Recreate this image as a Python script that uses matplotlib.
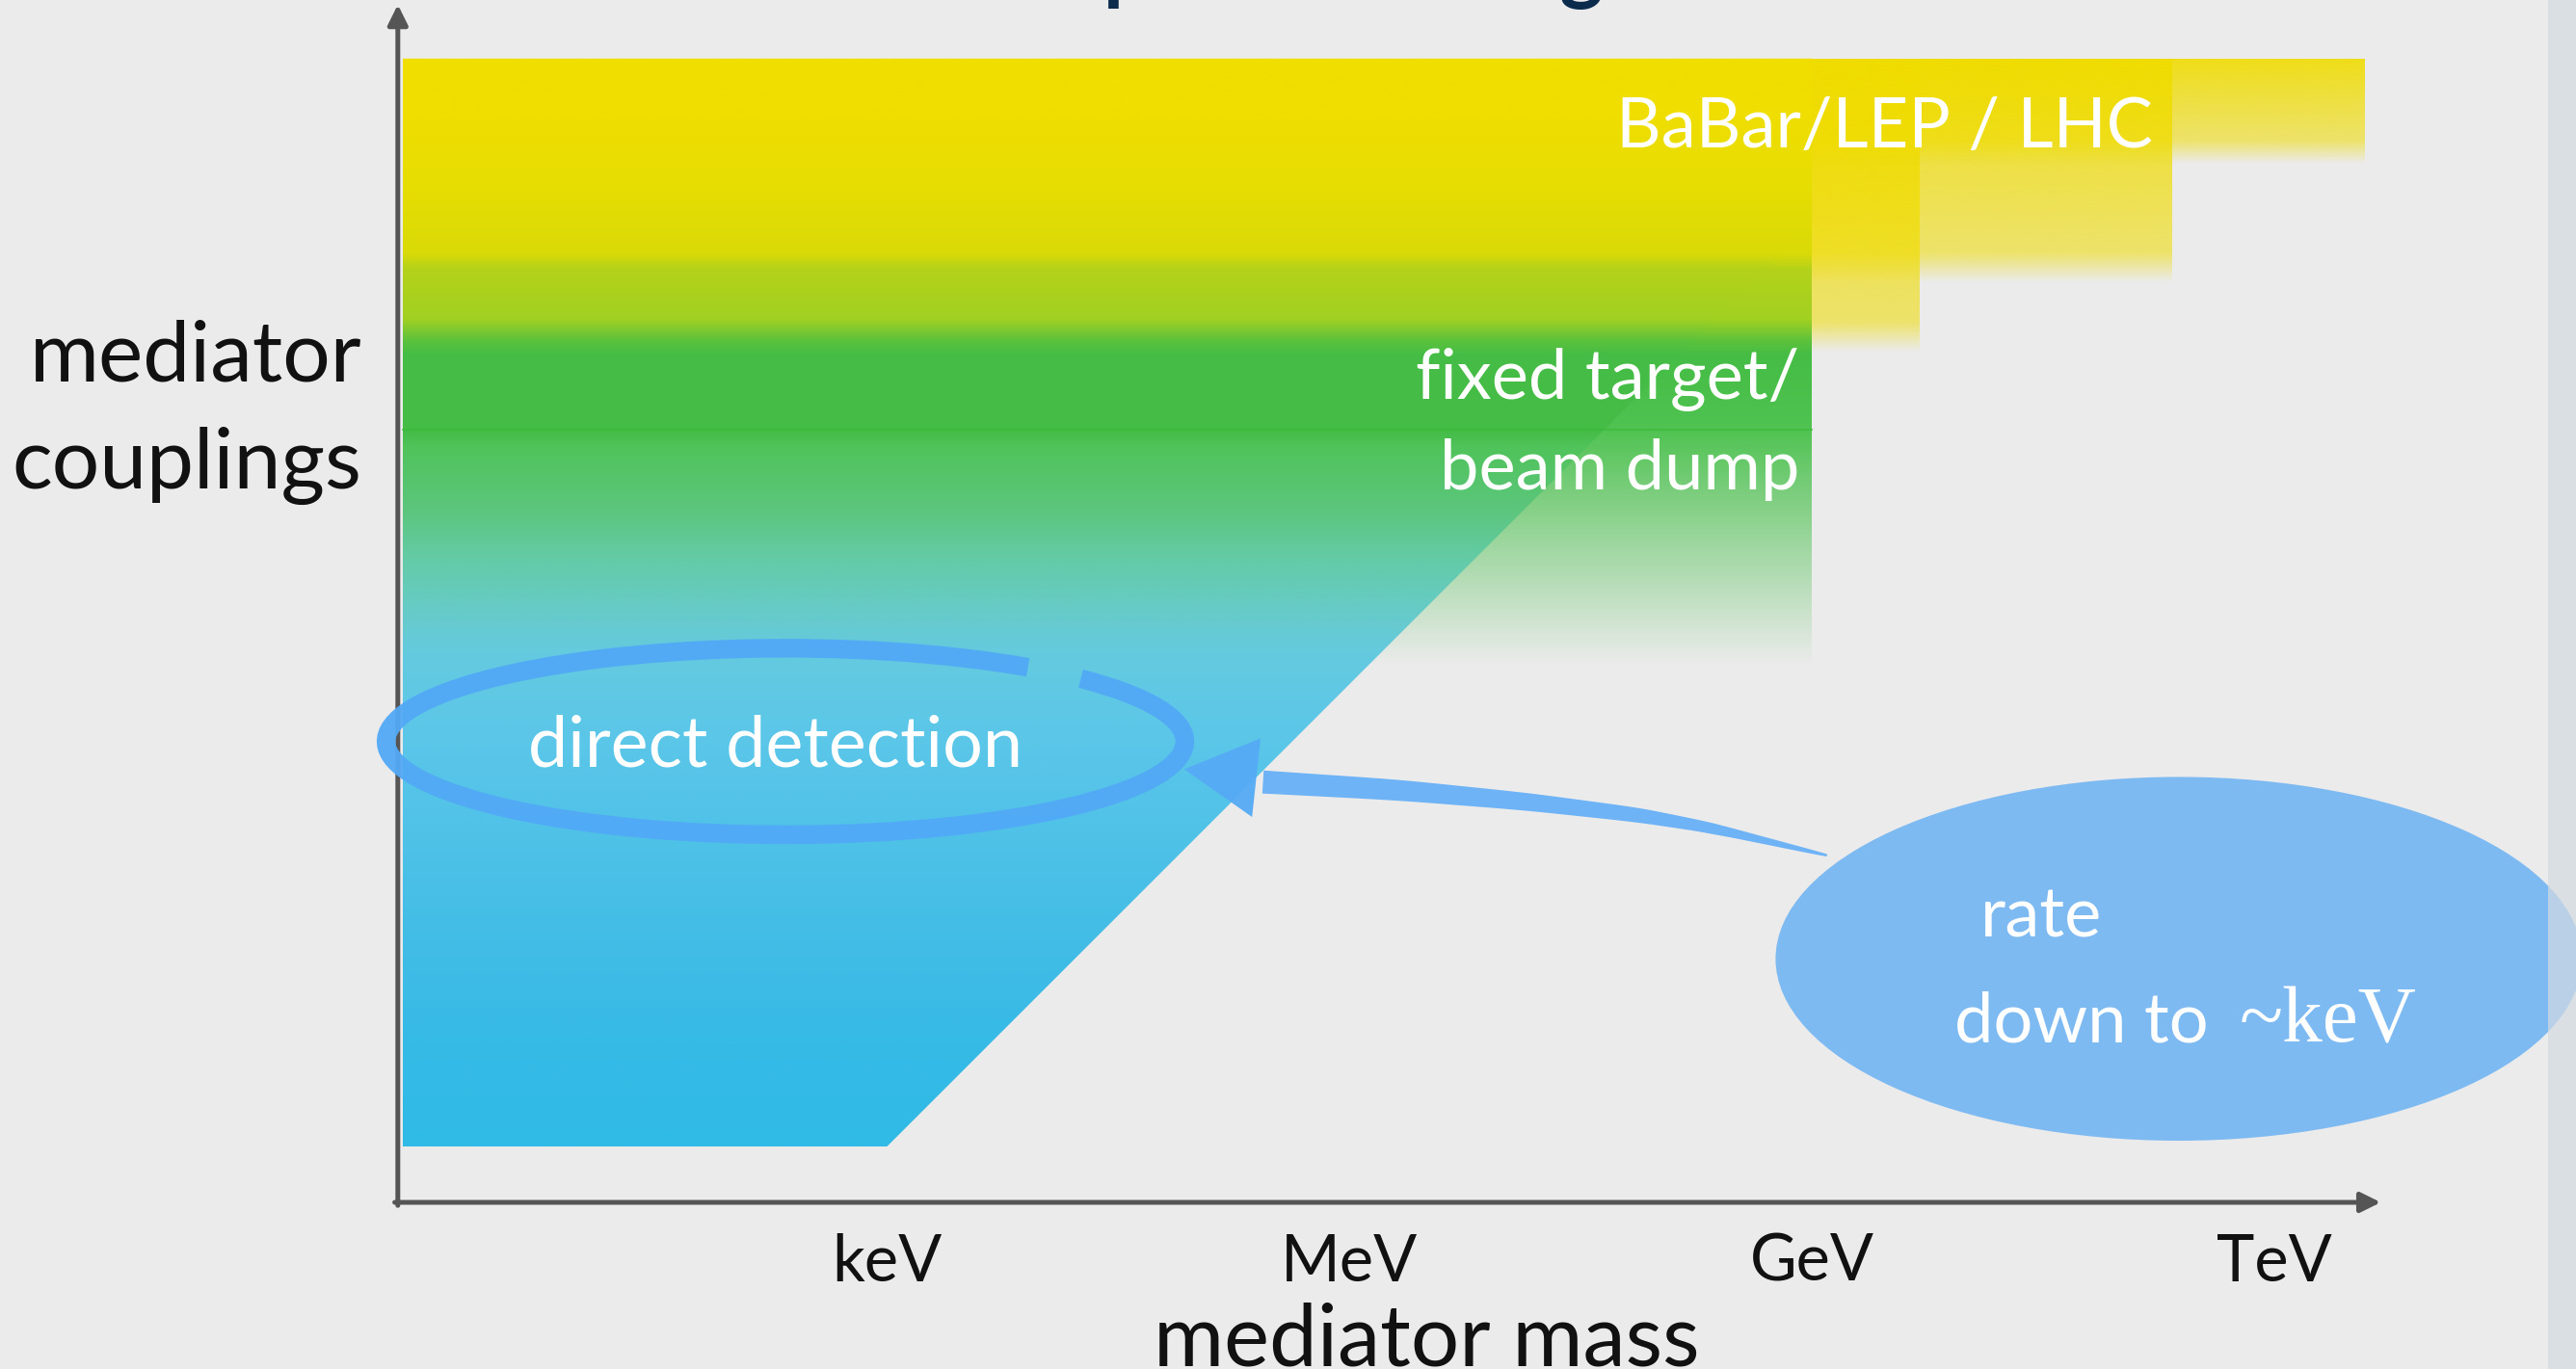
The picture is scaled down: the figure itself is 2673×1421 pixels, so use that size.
import numpy as np
import matplotlib.pyplot as plt
from matplotlib.colors import to_rgba
from matplotlib.patches import Polygon, Rectangle, Ellipse, Arc

plt.rcParams['font.family'] = ['Lato', 'DejaVu Sans']

# x: log10(mediator mass / eV), y: log10(coupling) -- schematic scales
mass_ticks = [3, 6, 9, 12]
mass_labels = ['keV', 'MeV', 'GeV', 'TeV']

axis_x0, axis_x1 = -0.17, 12.69
axis_y0, axis_y1 = -9.0, -1.23
band_left, band_top = -0.14, -1.58

# collider reach (BaBar, LEP, LHC): mass edge, where the band starts to fade, fade end
collider_mass = [9.70, 11.34, 12.59]
collider_floor = [-3.29, -2.84, -2.11]
collider_fade = [-3.48, -3.03, -2.26]

# fixed target / beam dump
ft_mass = 9.0
ft_floor = -3.99
ft_fade = -5.51

# direct detection: flat floor up to keV, then rising
dd_floor = -8.64
dd_kink = 3.0
dd_slope = 1.0

# colour stops of the shaded band (bottom -> top)
grad_y = [-8.64, -7.98, -7.29, -6.60, -5.91, -5.44, -5.21, -4.84, -4.52, -4.10,
          -3.99, -3.50, -3.41, -3.27, -2.94, -2.85, -2.44, -1.98, -1.58]
grad_c = ['#30BBE6', '#36BAE6', '#42BDE6', '#50C2E8', '#5DC7E8', '#64CADF',
          '#67CBCC', '#64CBA8', '#5CC67E', '#50C35A', '#44BC46', '#45BD45',
          '#5CC23C', '#A2D022', '#B5D21A', '#D9DA08', '#E6DD03', '#EFDE00',
          '#F1DE00']

dd_ellipse = dict(center=(2.344, -6.01), width=5.18, height=1.21)
rate_ellipse = dict(center=(11.38, -7.42), width=5.23, height=2.36)

# arrow from the rate bubble to the direct detection reach
arrow_head = [(4.93, -6.19), (5.425, -5.99), (5.37, -6.50)]
arrow_x = [5.375, 6.3125, 7.144, 7.875, 8.3375, 9.156]
arrow_y = [-6.269, -6.325, -6.400, -6.4875, -6.569, -6.7625]
arrow_w = [0.15, 0.135, 0.115, 0.095, 0.07, 0.015]

xlim = (-2.75, 13.956)
ylim = (-10.081, -1.2)
bg = '#EBEBEB'


def column_image(y0, y1, ys, cols, ay, av, n=900):
    yy = np.linspace(y0, y1, n)
    rgb = np.array([to_rgba(c)[:3] for c in cols])
    img = np.zeros((n, 1, 4))
    for k in range(3):
        img[:, 0, k] = np.interp(yy, ys, rgb[:, k])
    img[:, 0, 3] = np.interp(yy, ay, av)
    return img


def shade(ax, verts, img, extent, z):
    patch = Polygon(verts, closed=True, facecolor='none', edgecolor='none')
    ax.add_patch(patch)
    im = ax.imshow(img, extent=extent, origin='lower', aspect='auto',
                   interpolation='bilinear', zorder=z)
    im.set_clip_path(patch)


def tapered_stroke(xs, ys, ws, n=80):
    t = np.linspace(0, 1, len(xs))
    tt = np.linspace(0, 1, n)
    px = np.interp(tt, t, xs)
    py = np.interp(tt, t, ys)
    # light smoothing of the polyline
    k = np.ones(9) / 9
    px = np.convolve(np.pad(px, 4, mode='edge'), k, mode='valid')
    py = np.convolve(np.pad(py, 4, mode='edge'), k, mode='valid')
    w = np.interp(tt, t, ws) / 2
    dx, dy = np.gradient(px), np.gradient(py)
    nrm = np.hypot(dx, dy)
    nx, ny = -dy / nrm, dx / nrm
    upper = np.column_stack([px + nx * w, py + ny * w])
    lower = np.column_stack([px - nx * w, py - ny * w])[::-1]
    return np.vstack([upper, lower])


fig = plt.figure(figsize=(26.73, 14.21), dpi=100, facecolor=bg)
ax = fig.add_axes([0, 0, 1, 1])
ax.set_facecolor(bg)
ax.axis('off')

# collider bands, drawn under everything else
for m, fl, fd in zip(collider_mass, collider_floor, collider_fade):
    img = column_image(fd, band_top, [fd, band_top], ['#F0DC00', '#F0DC00'],
                       [fd, fl, band_top], [0.0, 0.55, 0.9])
    verts = [(band_left, fd), (m, fd), (m, band_top), (band_left, band_top)]
    shade(ax, verts, img, [band_left, m, fd, band_top], 1)

# fixed target / beam dump region: green fading out at low coupling
ft_ys = [ft_fade, ft_floor] + [y for y in grad_y if y > ft_floor]
ft_cs = ['#58C45C', '#50C352'] + [c for y, c in zip(grad_y, grad_c) if y > ft_floor]
img = column_image(ft_fade, band_top, ft_ys, ft_cs,
                   [ft_fade, ft_floor, band_top], [0.0, 1.0, 1.0])
verts = [(band_left, ft_fade), (ft_mass, ft_fade), (ft_mass, band_top),
         (band_left, band_top)]
shade(ax, verts, img, [band_left, ft_mass, ft_fade, band_top], 2)
ax.plot([band_left, ft_mass], [ft_floor, ft_floor], color='#3BBA36',
        lw=1.5, alpha=0.6, zorder=4)

# direct detection reach
dd_top = dd_floor + (ft_mass - dd_kink) * dd_slope
img = column_image(dd_floor, band_top, grad_y, grad_c,
                   [dd_floor, band_top], [1.0, 1.0])
verts = [(band_left, dd_floor), (dd_kink, dd_floor), (ft_mass, dd_top),
         (ft_mass, band_top), (band_left, band_top)]
shade(ax, verts, img, [band_left, ft_mass, dd_floor, band_top], 3)

# axes with arrow heads
ax.annotate('', xy=(axis_x1, axis_y0), xytext=(axis_x0 - 0.02, axis_y0),
            arrowprops=dict(arrowstyle='-|>,head_length=1.25,head_width=0.62',
                            color='#555555', lw=3.6, shrinkA=0, shrinkB=0),
            zorder=6)
ax.annotate('', xy=(axis_x0, axis_y1), xytext=(axis_x0, axis_y0 - 0.02),
            arrowprops=dict(arrowstyle='-|>,head_length=1.25,head_width=0.62',
                            color='#555555', lw=3.6, shrinkA=0, shrinkB=0),
            zorder=6)

for m, lab in zip(mass_ticks, mass_labels):
    ax.text(m, -9.51, lab, ha='center', va='baseline', fontsize=48, color='#111111')
ax.text(6.50, -10.06, 'mediator mass', ha='center', va='baseline',
        fontsize=64, color='#111111')
ax.text(-0.406, -3.669, 'mediator', ha='right', va='baseline', fontsize=63,
        color='#111111')
ax.text(-0.406, -4.369, 'couplings', ha='right', va='baseline', fontsize=63,
        color='#111111')

# region labels
ax.text(11.21, -2.156, 'BaBar/LEP / LHC', ha='right', va='baseline',
        fontsize=52, color='white', zorder=8)
ax.text(8.92, -3.79, 'fixed target/', ha='right', va='baseline',
        fontsize=52, color='white', zorder=8)
ax.text(8.92, -4.375, 'beam dump', ha='right', va='baseline',
        fontsize=52, color='white', zorder=8)

ax.add_patch(Arc(dd_ellipse['center'], dd_ellipse['width'], dd_ellipse['height'],
                 theta1=17, theta2=372, color='#52A9F6', lw=14, alpha=0.95,
                 zorder=7))
ax.text(2.28, -6.17, 'direct detection', ha='center', va='baseline',
        fontsize=53, color='white', zorder=8)

ax.add_patch(Polygon(tapered_stroke(arrow_x, arrow_y, arrow_w), closed=True,
                     facecolor='#6DB3F6', edgecolor='none', zorder=7))
ax.add_patch(Polygon(arrow_head, closed=True, facecolor='#55AAF5',
                     edgecolor='none', alpha=0.95, zorder=7))

ax.add_patch(Ellipse(rate_ellipse['center'], rate_ellipse['width'],
                     rate_ellipse['height'], facecolor='#7EBAF2',
                     edgecolor='none', zorder=7))
ax.text(10.09, -7.28, 'rate', ha='left', va='baseline', fontsize=52,
        color='white', zorder=8)
ax.text(9.925, -7.96, 'down to', ha='left', va='baseline', fontsize=52,
        color='white', zorder=8)
ax.text(11.77, -7.96, '~keV', ha='left', va='baseline', fontsize=60,
        family='Liberation Serif', color='white', zorder=8)

# slide title, mostly above the visible area
ax.text(3.29, -1.1625, 'Complete coverage', ha='left', va='baseline',
        fontsize=62, fontweight='bold', color='#0A2B4C', zorder=8)

# side strip of the slide frame
ax.add_patch(Rectangle((13.775, ylim[0]), xlim[1] - 13.775, ylim[1] - ylim[0],
                       facecolor='#D3DAE1', edgecolor='none', alpha=0.7,
                       zorder=9))

ax.set_xlim(*xlim)
ax.set_ylim(*ylim)
fig.savefig('out.png', dpi=100, facecolor=bg)
